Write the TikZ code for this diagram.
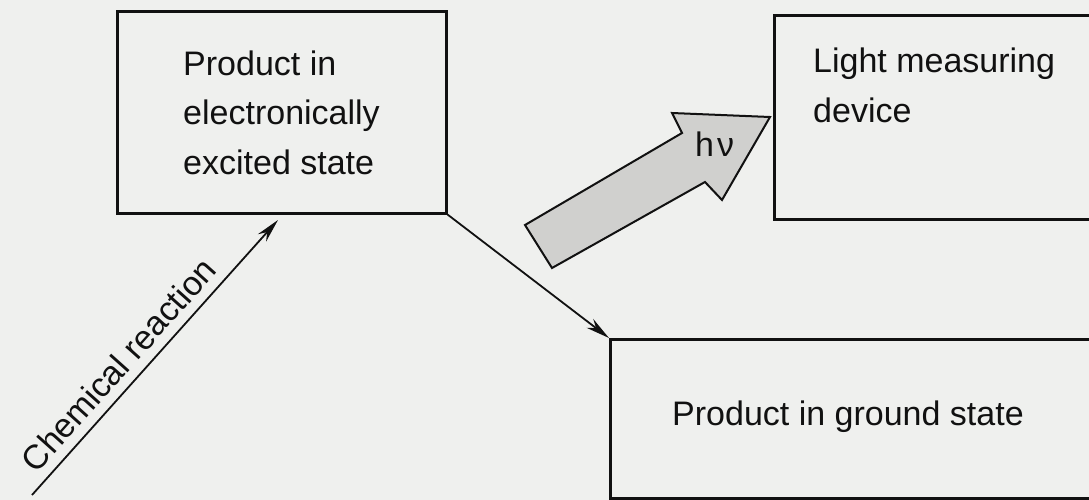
\documentclass[tikz,border=0pt]{standalone}
\usepackage{fontspec}
\setmainfont{Liberation Sans}
\usetikzlibrary{arrows.meta}
\definecolor{paper}{HTML}{EFF0EE}
\definecolor{ink}{HTML}{111111}
\definecolor{photonfill}{HTML}{D0D0CE}
\begin{document}
\begin{tikzpicture}[x=1pt,y=-1pt,
  box/.style={draw=ink, line width=3pt, inner sep=0pt},
  txt/.style={inner sep=0pt, font=\fontsize{34}{49.5}\selectfont, text=ink},
  link/.style={draw=ink, line width=1.8pt, -{Stealth[length=24pt,width=11pt]}},
  photon/.style={draw=ink, fill=photonfill, line width=2pt, line join=miter}]
% page
\fill[paper] (0,0) rectangle (1089,500);
\useasboundingbox (0,0) rectangle (1089,500);

% boxes
\node[box, txt, align=left, minimum width=329pt, minimum height=201pt]
  (excited) at (281.5,112.5) {Product in\\electronically\\excited state};
\node[box, minimum width=340pt, minimum height=204pt, anchor=north west]
  (meter) at (773,14) {};
\node[txt, align=left, anchor=north west] (meterlabel) at (813,48)
  {Light measuring\\device};
\node[box, minimum width=500pt, minimum height=159pt, anchor=north west]
  (ground) at (609,338) {};
\node[txt, anchor=base west] (groundlabel) at (672,425) {Product in ground state};

% chemical reaction arrow
\coordinate (reactstart) at (32,495);
\coordinate (reactend) at (278,220);
\draw[link] (reactstart) -- node[txt, sloped, pos=0.42, above=9pt] (chem)
  {Chemical reaction} (reactend);

% relaxation to ground state
\draw[link] (excited.south east) -- (ground.north west);

% emitted light
\draw[photon] (552,268) -- (525,225) -- (682,133) -- (672,113) -- (770,117)
  -- (722,200) -- (705,182) -- cycle;
\node[txt, anchor=base west] (hnu) at (695,157) {h\kern3ptν};
\end{tikzpicture}
\end{document}
